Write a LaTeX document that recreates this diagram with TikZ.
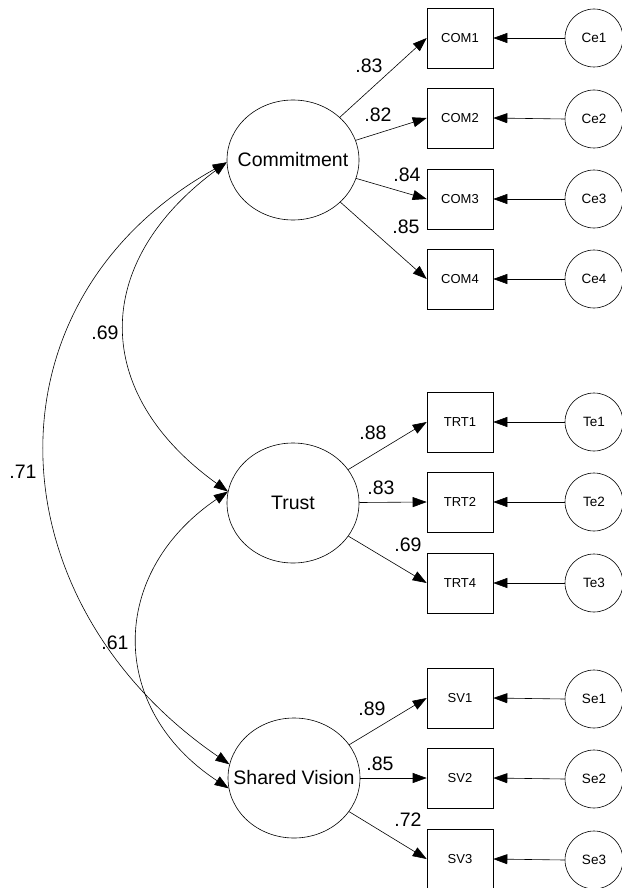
\documentclass[tikz,border=0pt]{standalone}
\usepackage{fontspec}
\setmainfont{Liberation Sans}
\usetikzlibrary{shapes.geometric,arrows.meta}
\begin{document}
\begin{tikzpicture}[x=1pt,y=-1pt,
  every path/.style={line width=0.6pt},
  tip/.style={-{Triangle[length=14pt,width=10pt]}},
  dtip/.style={{Triangle[length=14pt,width=10pt]}-{Triangle[length=14pt,width=10pt]}},
  latent/.style={draw,ellipse,minimum width=132pt,minimum height=120pt,inner sep=0pt,font=\fontsize{19.5}{20}\selectfont},
  obs/.style={draw,rectangle,minimum width=66pt,minimum height=60pt,inner sep=0pt,font=\fontsize{13}{14}\selectfont},
  err/.style={draw,circle,minimum size=58pt,inner sep=0pt,font=\fontsize{13.5}{14}\selectfont},
  lbl/.style={font=\fontsize{19.5}{20}\selectfont,inner sep=0pt}]
\useasboundingbox (0,0) rectangle (621,888);
% latent variables
\node[latent] (com) at (293,160) {\makebox[0pt][c]{Commitment}};
\node[latent] (trust) at (293,503) {\makebox[0pt][c]{Trust}};
\node[latent] (sv) at (294,778) {\makebox[0pt][c]{Shared Vision}};
% observed
\node[obs] (com1) at (460,38) {COM1};
\node[obs] (com2) at (460,118) {COM2};
\node[obs] (com3) at (460,199) {COM3};
\node[obs] (com4) at (460,279) {COM4};
\node[obs] (trt1) at (460,422) {TRT1};
\node[obs] (trt2) at (460,502) {TRT2};
\node[obs] (trt4) at (460,583) {TRT4};
\node[obs] (sv1) at (460,698) {SV1};
\node[obs] (sv2) at (460,778) {SV2};
\node[obs] (sv3) at (460,859) {SV3};
% errors
\node[err] (ce1) at (594,38) {Ce1};
\node[err] (ce2) at (594,119) {Ce2};
\node[err] (ce3) at (594,199) {Ce3};
\node[err] (ce4) at (594,279) {Ce4};
\node[err] (te1) at (594,422) {Te1};
\node[err] (te2) at (594,502) {Te2};
\node[err] (te3) at (594,583) {Te3};
\node[err] (se1) at (594,699) {Se1};
\node[err] (se2) at (594,779) {Se2};
\node[err] (se3) at (594,860) {Se3};
% loadings
\foreach \a/\b in {com/com1,com/com2,com/com3,com/com4,trust/trt1,trust/trt2,trust/trt4,sv/sv1,sv/sv2,sv/sv3}
  \draw[tip] (\a) -- (\b.west);
\foreach \a/\b in {ce1/com1,ce2/com2,ce3/com3,ce4/com4,te1/trt1,te2/trt2,te3/trt4,se1/sv1,se2/sv2,se3/sv3}
  \draw[tip] (\a.west) -- (\b.east);
% loading labels
\node[lbl] (l1) at (369,66) {.83};
\node[lbl] (l2) at (378,115) {.82};
\node[lbl] (l3) at (407,175) {.84};
\node[lbl] (l4) at (406,227) {.85};
\node[lbl] (l5) at (373,433) {.88};
\node[lbl] (l6) at (381,488) {.83};
\node[lbl] (l7) at (408,545) {.69};
\node[lbl] (l8) at (372,709) {.89};
\node[lbl] (l9) at (380,764) {.85};
\node[lbl] (l10) at (408,820) {.72};
% correlations
\coordinate (cT) at (com.182);
\coordinate (tT) at (trust.170);
\coordinate (sU) at (sv.168);
\coordinate (sL) at (sv.189);
\draw[dtip] (tT) .. controls (91,393) and (91,263) .. (cT);
\draw[dtip] (sU) .. controls (-10,600) and (-20,300) .. (cT);
\draw[dtip] (tT) .. controls (108,573) and (108,709) .. (sL);
\node[lbl] (r1) at (105,333) {.69};
\node[lbl] (r2) at (23,472) {.71};
\node[lbl] (r3) at (115,643) {.61};
\end{tikzpicture}
\end{document}
